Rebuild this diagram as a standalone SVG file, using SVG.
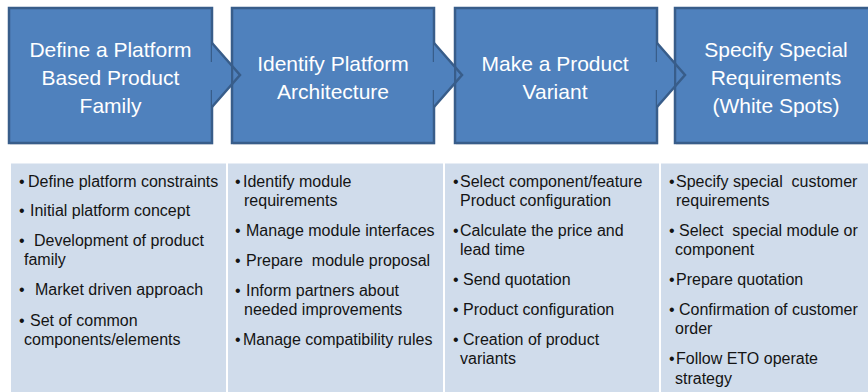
<svg xmlns="http://www.w3.org/2000/svg" width="868" height="392" viewBox="0 0 868 392">
  <style>
    .box { fill: #4F81BD; stroke: #385D8A; stroke-width: 2.5; }
    .shadow { fill: #000000; opacity: 0.08; }
    .tabfill { fill: #4F81BD; stroke: none; }
    .tabline { fill: none; stroke: #385D8A; stroke-width: 2.5; stroke-linejoin: miter; }
    .title { font-family: "Liberation Sans", Arial, sans-serif; font-size: 21px; fill: #FFFFFF; text-anchor: middle; }
    .panel { fill: #D0DCEB; }
    .item { font-family: "Liberation Sans", Arial, sans-serif; font-size: 16px; fill: #141414; white-space: pre; }
  </style>
  <rect width="868" height="392" fill="#FFFFFF"/>

  <!-- step nodes -->
  <g id="step1">
    <rect class="shadow" x="10" y="10" width="203" height="135"/>
    <rect class="box" x="9" y="8" width="203" height="135"/>
    <text class="title" x="110.5" y="57">Define a Platform</text>
    <text class="title" x="110.5" y="85">Based Product</text>
    <text class="title" x="110.5" y="113">Family</text>
  </g>
  <g id="step2">
    <rect class="shadow" x="233" y="10" width="202" height="135"/>
    <rect class="box" x="232" y="8" width="202" height="135"/>
    <text class="title" x="333" y="71">Identify Platform</text>
    <text class="title" x="333" y="99">Architecture</text>
  </g>
  <g id="step3">
    <rect class="shadow" x="456" y="10" width="202" height="135"/>
    <rect class="box" x="455" y="8" width="202" height="135"/>
    <text class="title" x="555" y="71">Make a Product</text>
    <text class="title" x="555" y="99">Variant</text>
  </g>
  <g id="step4">
    <rect class="shadow" x="676" y="10" width="203" height="135"/>
    <rect class="box" x="675" y="8" width="203" height="135"/>
    <text class="title" x="776" y="57">Specify Special</text>
    <text class="title" x="776" y="85">Requirements</text>
    <text class="title" x="776" y="113">(White Spots)</text>
  </g>

  <!-- connectors: chevron arrow tabs between steps -->
  <g id="connectors">
    <polygon class="tabfill" points="208,62 212,62 212,43 231,64.7 231,85.3 212,107 212,90 208,90"/>
    <polyline class="tabline" points="212,43 240,75 212,107"/>
    <polygon class="tabfill" points="430,62 434,62 434,43 454,65.9 454,84.1 434,107 434,90 430,90"/>
    <polyline class="tabline" points="434,43 462,75 434,107"/>
    <polygon class="tabfill" points="653,62 657,62 657,43 674,62.4 674,87.6 657,107 657,90 653,90"/>
    <polyline class="tabline" points="657,43 685,75 657,107"/>
  </g>

  <!-- detail panels -->
  <g id="panel1">
    <rect class="panel" x="11" y="163.5" width="215" height="229"/>
    <text class="item" x="19" y="187">•</text><text class="item" x="28" y="187">Define platform constraints</text>
    <text class="item" x="19" y="216">•</text><text class="item" x="30" y="216">Initial platform concept</text>
    <text class="item" x="19" y="246">•</text><text class="item" x="34" y="246">Development of product</text>
    <text class="item" x="24" y="265">family</text>
    <text class="item" x="19" y="295">•</text><text class="item" x="35" y="295">Market driven approach</text>
    <text class="item" x="19" y="326">•</text><text class="item" x="30" y="326">Set of common</text>
    <text class="item" x="24" y="345">components/elements</text>
  </g>
  <g id="panel2">
    <rect class="panel" x="228" y="163.5" width="215" height="229"/>
    <text class="item" x="235" y="187">•</text><text class="item" x="243" y="187">Identify module</text>
    <text class="item" x="244" y="206">requirements</text>
    <text class="item" x="235" y="236">•</text><text class="item" x="246" y="236">Manage module interfaces</text>
    <text class="item" x="235" y="266">•</text><text class="item" x="246" y="266">Prepare  module proposal</text>
    <text class="item" x="235" y="296">•</text><text class="item" x="246" y="296">Inform partners about</text>
    <text class="item" x="244" y="315">needed improvements</text>
    <text class="item" x="235" y="345">•</text><text class="item" x="243" y="345">Manage compatibility rules</text>
  </g>
  <g id="panel3">
    <rect class="panel" x="445" y="163.5" width="214" height="229"/>
    <text class="item" x="453" y="187">•</text><text class="item" x="460" y="187">Select component/feature</text>
    <text class="item" x="460" y="206">Product configuration</text>
    <text class="item" x="453" y="236">•</text><text class="item" x="460" y="236">Calculate the price and</text>
    <text class="item" x="460" y="255">lead time</text>
    <text class="item" x="453" y="285">•</text><text class="item" x="463" y="285">Send quotation</text>
    <text class="item" x="453" y="315">•</text><text class="item" x="463" y="315">Product configuration</text>
    <text class="item" x="453" y="345">•</text><text class="item" x="463" y="345">Creation of product</text>
    <text class="item" x="460" y="364">variants</text>
  </g>
  <g id="panel4">
    <rect class="panel" x="661" y="163.5" width="207" height="229"/>
    <text class="item" x="669" y="187">•</text><text class="item" x="676" y="187">Specify special  customer</text>
    <text class="item" x="676" y="206">requirements</text>
    <text class="item" x="669" y="236">•</text><text class="item" x="679" y="236">Select  special module or</text>
    <text class="item" x="675" y="255">component</text>
    <text class="item" x="669" y="285">•</text><text class="item" x="676" y="285">Prepare quotation</text>
    <text class="item" x="669" y="315">•</text><text class="item" x="679" y="315">Confirmation of customer</text>
    <text class="item" x="675" y="334">order</text>
    <text class="item" x="669" y="364">•</text><text class="item" x="676" y="364">Follow ETO operate</text>
    <text class="item" x="675" y="384">strategy</text>
  </g>
</svg>
